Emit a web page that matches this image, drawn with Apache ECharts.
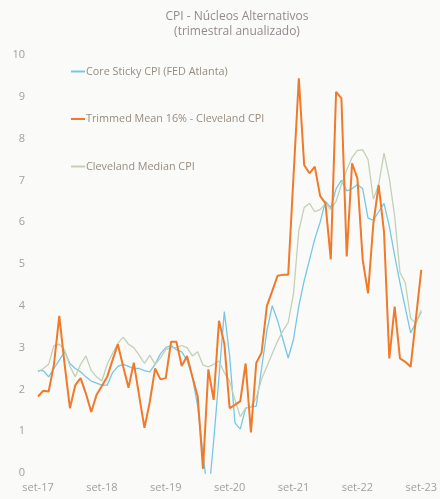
<!DOCTYPE html>
<html>
<head>
<meta charset="utf-8">
<script src="https://cdn.jsdelivr.net/npm/echarts@6/dist/echarts.min.js"></script>
<style>
html,body{margin:0;padding:0;background:#fafbf8;}
#c{width:440px;height:499px;}
</style>
</head>
<body>
<div id="c"></div>
<script>
var categories = [
'set-17','out-17','nov-17','dez-17','jan-18','fev-18','mar-18','abr-18','mai-18','jun-18','jul-18','ago-18',
'set-18','out-18','nov-18','dez-18','jan-19','fev-19','mar-19','abr-19','mai-19','jun-19','jul-19','ago-19',
'set-19','out-19','nov-19','dez-19','jan-20','fev-20','mar-20','abr-20','mai-20','jun-20','jul-20','ago-20',
'set-20','out-20','nov-20','dez-20','jan-21','fev-21','mar-21','abr-21','mai-21','jun-21','jul-21','ago-21',
'set-21','out-21','nov-21','dez-21','jan-22','fev-22','mar-22','abr-22','mai-22','jun-22','jul-22','ago-22',
'set-22','out-22','nov-22','dez-22','jan-23','fev-23','mar-23','abr-23','mai-23','jun-23','jul-23','ago-23',
'set-23'
];

var coreSticky = [
2.45,2.45,2.3,2.5,2.7,2.9,2.62,2.5,2.42,2.3,2.2,2.15,
2.1,2.1,2.4,2.55,2.6,2.55,2.5,2.5,2.45,2.42,2.6,2.85,
3.0,3.05,2.95,2.9,2.7,2.3,1.6,0.45,-0.6,0.76,2.3,3.86,
2.8,1.2,1.05,1.55,1.58,1.6,2.5,3.4,4.0,3.65,3.2,2.75,
3.2,4.0,4.6,5.1,5.6,6.0,6.5,6.35,6.8,7.0,6.75,6.8,
6.9,6.8,6.1,6.05,6.25,6.45,5.9,5.2,4.55,3.95,3.35,3.6,
3.85
];

var trimmedMean = [
1.83,1.97,1.95,2.6,3.76,2.6,1.55,2.1,2.27,1.9,1.46,1.87,
2.08,2.3,2.7,3.08,2.55,2.04,2.64,1.85,1.08,1.7,2.5,2.24,
2.27,3.14,3.14,2.56,2.8,2.3,1.83,0.1,2.48,1.75,3.64,3.1,
1.55,1.63,1.72,2.62,0.97,2.63,2.88,4.0,4.35,4.72,4.74,4.74,
7.1,9.44,7.37,7.17,7.33,6.63,6.45,5.11,9.12,8.96,5.18,7.41,
7.05,5.1,4.3,5.97,6.89,5.77,2.74,3.98,2.74,2.66,2.54,3.7,
4.86
];

var clevelandMedian = [
2.42,2.5,2.6,3.05,3.08,2.95,2.55,2.3,2.6,2.8,2.45,2.3,
2.2,2.6,2.86,3.1,3.25,3.08,3.0,2.82,2.62,2.82,2.6,2.75,
2.95,3.0,3.0,3.05,3.0,2.8,2.9,2.58,2.54,2.6,2.68,2.4,
2.2,1.75,1.35,1.55,1.58,1.8,2.25,2.55,2.85,3.15,3.4,3.6,
4.3,5.8,6.35,6.45,6.25,6.3,6.45,6.3,6.5,6.9,7.25,7.55,
7.72,7.73,7.5,6.55,6.9,7.65,7.05,6.15,4.8,4.55,3.7,3.58,
3.9
];

var seriesNames = ['Core Sticky CPI (FED Atlanta)', 'Trimmed Mean 16% - Cleveland CPI', 'Cleveland Median CPI'];
var titleLines = ['CPI - Núcleos Alternativos', '(trimestral anualizado)'];

var font = '"Open Sans", "Noto Sans", sans-serif';
var textColor = '#978b80';

var chart = echarts.init(document.getElementById('c'), null, {renderer: 'canvas'});
chart.setOption({
  backgroundColor: '#fafbf8',
  animation: false,
  title: {
    text: titleLines.join('\n'),
    left: 232,
    textAlign: 'center',
    top: 4,
    textStyle: {fontFamily: font, fontSize: 12, fontWeight: 'normal', color: '#958890', lineHeight: 15}
  },
  legend: {
    orient: 'vertical',
    left: 66,
    top: 61,
    itemGap: 36.5,
    itemWidth: 14,
    itemHeight: 2,
    icon: 'rect',
    textStyle: {fontFamily: font, fontSize: 10.8, color: textColor, padding: [0,0,0,-4]},
    data: seriesNames
  },
  grid: {left: 38, right: 14, top: 55, bottom: 26, containLabel: false},
  xAxis: {
    type: 'category',
    data: categories,
    boundaryGap: false,
    axisLine: {show: false},
    axisTick: {show: false},
    splitLine: {show: false},
    axisLabel: {interval: 11, color: '#a0a0a0', fontFamily: font, fontSize: 11, margin: 9, showMaxLabel: true}
  },
  yAxis: {
    type: 'value',
    min: 0,
    max: 10,
    interval: 1,
    axisLine: {show: false},
    axisTick: {show: false},
    splitLine: {show: false},
    axisLabel: {color: '#a0a0a0', fontFamily: font, fontSize: 11, margin: 13}
  },
  series: [
    {name: seriesNames[0], type: 'line', data: coreSticky, symbol: 'none', clip: true,
     lineStyle: {color: '#78c6e6', width: 1.3}, itemStyle: {color: '#78c6e6'}, z: 2},
    {name: seriesNames[1], type: 'line', data: trimmedMean, symbol: 'none', clip: true,
     lineStyle: {color: '#f0792a', width: 2}, itemStyle: {color: '#f0792a'}, z: 4},
    {name: seriesNames[2], type: 'line', data: clevelandMedian, symbol: 'none', clip: true,
     lineStyle: {color: '#c3d0b6', width: 1.3}, itemStyle: {color: '#c3d0b6'}, z: 3}
  ]
});
</script>
</body>
</html>
